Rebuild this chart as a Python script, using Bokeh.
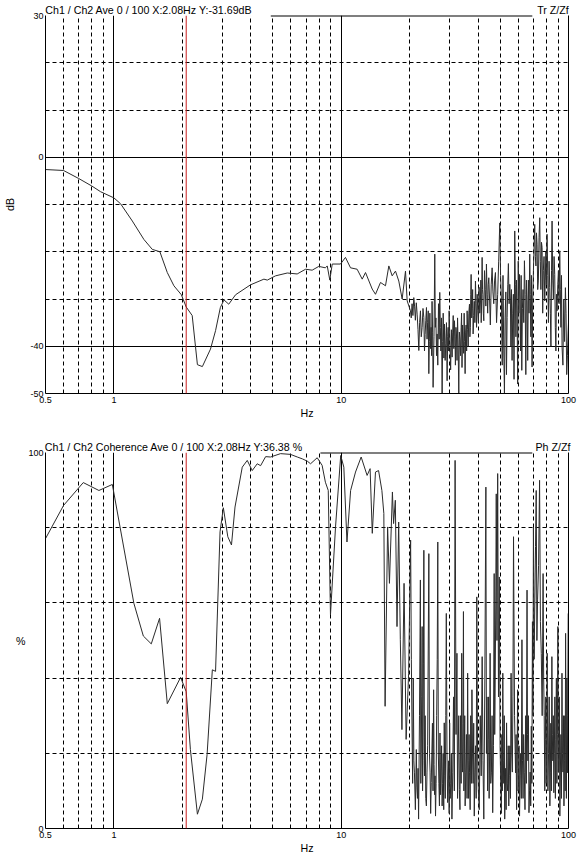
from bokeh.plotting import figure
from bokeh.models import FixedTicker, Grid, Span, LinearAxis, CustomJSTickFormatter
from bokeh.layouts import column
from bokeh.embed import file_html
from bokeh.resources import INLINE

# ---------------- data ----------------
# transfer function (dB), smooth low-frequency part
tf_freq_low = [0.5, 0.6, 0.7, 0.8, 0.874, 1.0, 1.07, 1.205, 1.355, 1.475, 1.593, 1.717, 1.836, 1.98, 2.08,
               2.21, 2.33, 2.45, 2.66, 2.80, 2.94, 3.05, 3.20, 3.43, 3.99, 4.57, 4.73, 5.14, 5.79, 6.4,
               6.97, 7.45, 7.97, 8.52, 8.68, 8.91, 9.13, 9.93, 10.44, 10.99, 11.75, 12.37, 12.79, 13.69,
               14.15, 14.89, 15.66, 16.20, 16.76, 17.33, 17.92, 18.54, 19.18, 19.51]
tf_db_low = [-2.6, -2.8, -4.5, -6.1, -7.3, -8.6, -9.85, -13.5, -17.4, -19.5, -20.0, -24.4, -27.2, -29.1, -31.69,
             -33.5, -43.9, -44.3, -40.6, -36.7, -31.8, -30.2, -31.1, -29.1, -27.0, -25.8, -26.0, -25.1, -24.5, -24.7,
             -23.7, -23.9, -23.1, -23.4, -23.0, -26.0, -22.6, -22.6, -21.2, -23.4, -23.7, -25.8, -24.4, -27.9,
             -29.0, -26.5, -27.2, -23.0, -25.1, -24.1, -26.2, -30.0, -24.1, -30.4]
# transfer function (dB), noisy high-frequency part
tf_freq_high = [20.17, 20.33, 20.5, 20.68, 20.86, 21.03, 21.2, 21.4, 21.58, 21.77,
                21.95, 22.13, 22.32, 22.5, 22.7, 22.9, 23.09, 23.25, 23.4, 23.56,
                23.72, 23.86, 24.0, 24.15, 24.29, 24.42, 24.55, 24.7, 24.86, 24.98,
                25.1, 25.24, 25.37, 25.6, 25.8, 25.95, 26.1, 26.26, 26.42, 26.6,
                26.8, 26.97, 27.14, 27.3, 27.45, 27.62, 27.8, 27.95, 28.1, 28.3,
                28.47, 28.66, 28.85, 29.05, 29.24, 29.4, 29.55, 29.7, 29.84, 30.07,
                30.3, 30.53, 30.76, 30.93, 31.1, 31.3, 31.5, 31.65, 31.8, 31.97,
                32.14, 32.32, 32.5, 32.7, 32.91, 33.1, 33.3, 33.5, 33.7, 33.85,
                34.0, 34.2, 34.39, 34.57, 34.75, 34.92, 35.09, 35.27, 35.45, 35.63,
                35.81, 36.0, 36.2, 36.43, 36.67, 36.83, 37.0, 37.15, 37.29, 37.5,
                37.7, 37.87, 38.05, 38.28, 38.5, 38.73, 38.96, 39.18, 39.4, 39.65,
                39.89, 40.15, 40.4, 40.7, 40.99, 41.15, 41.3, 41.5, 41.69, 41.85,
                42.0, 42.2, 42.4, 42.7, 43.0, 43.28, 43.55, 43.83, 44.1, 44.35,
                44.6, 44.95, 45.3, 45.7, 46.13, 46.5, 46.9, 47.3, 47.71, 48.25,
                48.8, 49.3, 49.84, 50.25, 50.69, 51.1, 51.5, 51.9, 52.26, 52.6,
                53.0, 53.35, 53.7, 54.05, 54.4, 54.8, 55.16, 55.5, 55.8, 56.1,
                56.47, 56.85, 57.2, 57.6, 58.01, 58.35, 58.7, 59.05, 59.4, 59.75,
                60.1, 60.45, 60.82, 61.15, 61.5, 61.9, 62.3, 62.7, 63.1, 63.55,
                63.99, 64.45, 64.9, 65.3, 65.73, 66.15, 66.6, 67.05, 67.53, 67.9,
                68.3, 68.7, 69.14, 69.6, 70.1, 70.55, 71.03, 71.45, 71.9, 72.3,
                72.74, 73.2, 73.7, 74.2, 74.73, 75.15, 75.6, 76.05, 76.52, 77.0,
                77.5, 78.05, 78.61, 79.05, 79.5, 80.0, 80.49, 81.05, 81.6, 82.15,
                82.69, 83.2, 83.7, 84.2, 84.67, 85.25, 85.8, 86.4, 86.99, 87.5,
                88.0, 88.55, 89.07, 89.7, 90.3, 90.9, 91.51, 92.05, 92.6, 93.15,
                93.7, 94.5, 95.3, 96.1, 96.92, 97.55, 98.2, 98.9, 99.57, 100.0]
tf_db_high = [-32.5, -34.0, -31.0, -33.5, -29.7, -31.5, -34.5, -30.8, -33.2, -36.5,
              -40.9, -35.0, -32.5, -38.0, -36.0, -32.0, -33.9, -41.0, -37.5, -34.5,
              -31.8, -38.5, -35.0, -32.5, -45.8, -39.0, -33.0, -40.5, -36.0, -42.0,
              -30.5, -37.0, -48.7, -38.0, -20.5, -36.0, -34.0, -42.0, -37.4, -44.0,
              -31.0, -38.5, -28.6, -36.0, -41.0, -34.0, -50.0, -39.0, -33.0, -42.5,
              -35.3, -43.0, -39.5, -35.0, -47.3, -38.0, -36.0, -41.0, -32.5, -39.0,
              -45.0, -36.5, -42.3, -37.0, -33.5, -40.5, -34.6, -38.0, -44.0, -36.0,
              -37.4, -43.0, -34.0, -40.0, -50.0, -37.0, -38.5, -42.0, -36.0, -33.0,
              -44.5, -35.5, -38.8, -41.5, -33.0, -39.0, -45.8, -37.0, -35.5, -41.0,
              -32.5, -36.5, -40.0, -33.0, -31.1, -38.0, -36.0, -29.0, -24.8, -34.0,
              -32.0, -28.0, -37.4, -33.5, -30.5, -35.0, -26.2, -31.0, -36.0, -29.0,
              -32.5, -35.0, -27.5, -33.0, -30.4, -26.0, -35.0, -30.0, -21.2, -28.0,
              -29.0, -33.0, -34.6, -24.0, -28.0, -31.5, -22.6, -29.0, -33.0, -27.0,
              -25.5, -30.0, -35.5, -27.0, -23.4, -28.5, -31.0, -26.0, -24.4, -35.0,
              -29.0, -22.0, -13.9, -25.0, -30.4, -44.0, -25.0, -41.0, -50.0, -34.0,
              -28.5, -46.0, -33.9, -27.0, -22.5, -31.0, -26.9, -30.0, -40.0, -28.0,
              -43.0, -33.0, -29.0, -47.0, -15.6, -27.0, -38.0, -26.0, -32.5, -48.0,
              -22.0, -33.0, -24.8, -30.0, -41.0, -25.0, -45.1, -32.0, -28.0, -35.0,
              -21.9, -29.0, -46.0, -26.0, -30.4, -43.0, -26.0, -33.0, -20.5, -29.0,
              -38.0, -25.0, -44.4, -30.0, -24.0, -19.0, -14.2, -21.0, -23.0, -16.0,
              -18.4, -28.0, -26.0, -17.0, -12.8, -22.0, -28.0, -18.0, -19.1, -33.0,
              -24.0, -21.0, -30.4, -26.0, -20.0, -27.0, -16.3, -25.0, -35.0, -22.0,
              -27.6, -33.0, -40.0, -24.0, -13.5, -26.0, -30.0, -21.0, -24.8, -36.0,
              -41.0, -29.0, -32.5, -27.0, -24.0, -31.0, -19.8, -28.0, -36.0, -25.0,
              -40.2, -44.0, -30.0, -39.0, -27.6, -33.0, -46.0, -42.0, -37.4, -35.0]

# coherence (%), low-frequency part
coh_freq_low = [0.5, 0.60, 0.733, 0.859, 0.984, 1.224, 1.347, 1.46, 1.588, 1.717, 1.965, 2.08, 2.17, 2.33, 2.45,
                2.57, 2.71, 2.80, 2.93, 3.03, 3.17, 3.29, 3.41, 3.67, 3.86, 4.06, 4.27, 4.42, 4.65, 4.89,
                5.41, 5.98, 6.41, 6.75, 7.09, 7.33, 7.84, 8.24, 8.52, 8.77, 8.97, 9.44, 9.95, 10.27, 10.6,
                11.0, 11.56, 12.24, 13.0, 13.4, 13.7, 14.15, 14.6, 15.1, 15.4, 15.6, 16.0, 16.3, 16.8, 17.0,
                17.3, 17.6, 17.9, 18.2, 18.5, 18.9, 19.3, 19.8]
coh_pct_low = [77.1, 85.9, 92.0, 89.9, 91.5, 59.9, 51.2, 49.1, 55.9, 33.2, 40.2, 36.38, 21.0, 3.8, 7.8,
               19.7, 42.2, 41.8, 78.9, 85.3, 77.6, 75.4, 85.5, 96.1, 97.9, 95.2, 97.0, 96.5, 98.9, 98.8,
               99.7, 99.5, 98.8, 98.3, 97.7, 97.0, 98.6, 96.6, 92.1, 89.9, 56.8, 80.2, 99.2, 96.1, 76.2,
               89.9, 94.8, 98.8, 93.9, 95.7, 78.5, 94.8, 95.2, 89.9, 83.8, 32.5, 80.2, 65.2, 89.5, 81.1,
               87.3, 53.7, 81.5, 50.2, 26.3, 65.2, 23.7, 41.3]
# coherence (%), noisy high-frequency part
coh_freq_high = [20.2, 20.35, 20.5, 20.62, 20.75, 20.88, 21.0, 21.2, 21.4, 21.52,
                 21.65, 21.78, 21.9, 22.1, 22.3, 22.4, 22.5, 22.6, 22.7, 22.8,
                 22.9, 23.0, 23.1, 23.25, 23.4, 23.55, 23.7, 23.85, 24.0, 24.15,
                 24.3, 24.45, 24.6, 24.75, 24.9, 25.05, 25.2, 25.35, 25.5, 25.62,
                 25.75, 25.88, 26.0, 26.15, 26.3, 26.45, 26.6, 26.75, 26.9, 27.05,
                 27.2, 27.35, 27.5, 27.65, 27.8, 27.95, 28.1, 28.25, 28.4, 28.55,
                 28.7, 28.85, 29.0, 29.2, 29.4, 29.55, 29.7, 29.85, 30.0, 30.17,
                 30.35, 30.52, 30.7, 30.95, 31.2, 31.45, 31.7, 32.0, 32.3, 32.5,
                 32.7, 32.9, 33.1, 33.3, 33.5, 33.7, 33.9, 34.05, 34.2, 34.35,
                 34.5, 34.65, 34.8, 34.95, 35.1, 35.32, 35.55, 35.78, 36.0, 36.17,
                 36.35, 36.52, 36.7, 36.92, 37.15, 37.38, 37.6, 37.82, 38.05, 38.28,
                 38.5, 38.75, 39.0, 39.25, 39.5, 39.8, 40.1, 40.5, 40.9, 41.3,
                 41.7, 42.05, 42.4, 42.85, 43.3, 43.55, 43.8, 44.05, 44.3, 44.52,
                 44.75, 44.97, 45.2, 45.5, 45.8, 46.1, 46.4, 46.75, 47.1, 47.35,
                 47.6, 47.85, 48.1, 48.45, 48.8, 49.2, 49.6, 50.0, 50.4, 50.65,
                 50.9, 51.15, 51.4, 51.65, 51.9, 52.15, 52.4, 52.65, 52.9, 53.15,
                 53.4, 53.7, 54.0, 54.3, 54.6, 54.9, 55.2, 55.55, 55.9, 56.25,
                 56.6, 56.95, 57.3, 57.9, 58.5, 58.8, 59.1, 59.4, 59.7, 60.0,
                 60.3, 60.6, 60.9, 61.25, 61.6, 62.0, 62.4, 62.75, 63.1, 63.5,
                 63.9, 64.35, 64.8, 65.25, 65.7, 66.0, 66.3, 66.65, 67.0, 67.4,
                 67.8, 68.2, 68.6, 69.0, 69.4, 69.75, 70.1, 70.6, 71.1, 71.6,
                 72.1, 72.6, 73.1, 73.85, 74.6, 75.25, 75.9, 76.6, 77.3, 77.75,
                 78.2, 78.65, 79.1, 79.45, 79.8, 80.2, 80.6, 81.15, 81.7, 82.25,
                 82.8, 83.2, 83.6, 84.05, 84.5, 84.9, 85.3, 85.75, 86.2, 86.65,
                 87.1, 87.55, 88.0, 88.45, 88.9, 89.35, 89.8, 90.25, 90.7, 91.15,
                 91.6, 92.1, 92.6, 93.1, 93.6, 94.05, 94.5, 95.0, 95.5, 95.9,
                 96.3, 96.7, 97.1, 97.5, 97.9, 98.35, 98.8, 99.25, 99.7]
coh_pct_high = [76.7, 45.0, 25.4, 12.0, 40.0, 18.0, 14.8, 5.0, 21.0, 11.0,
                8.0, 16.0, 2.5, 30.0, 66.1, 12.0, 20.0, 35.0, 53.7, 10.0,
                18.0, 44.0, 74.0, 14.0, 30.0, 8.0, 6.0, 15.0, 22.0, 48.0,
                73.1, 20.0, 15.0, 4.0, 12.2, 20.0, 28.0, 10.0, 36.9, 17.0,
                9.0, 14.0, 3.3, 12.0, 30.0, 45.0, 76.2, 20.0, 12.0, 6.0,
                25.4, 9.0, 15.0, 22.0, 6.0, 12.0, 20.0, 5.0, 28.1, 14.0,
                8.0, 30.0, 57.2, 20.0, 6.9, 12.0, 18.0, 4.0, 28.1, 8.0,
                12.0, 20.0, 2.5, 15.0, 35.0, 10.0, 97.9, 25.0, 46.6, 8.0,
                20.0, 30.0, 10.4, 5.0, 30.0, 12.0, 46.6, 20.0, 15.0, 28.0,
                57.7, 10.0, 20.0, 30.0, 6.0, 15.0, 25.0, 8.0, 41.3, 18.0,
                8.0, 25.0, 14.8, 5.0, 30.0, 12.0, 36.9, 20.0, 12.0, 28.0,
                3.3, 15.0, 22.0, 8.0, 61.6, 20.0, 10.4, 5.0, 30.0, 14.0,
                45.7, 18.0, 2.5, 40.0, 90.8, 20.0, 35.0, 10.0, 23.7, 35.0,
                8.0, 20.0, 46.6, 12.0, 15.0, 30.0, 4.2, 22.0, 67.8, 25.0,
                40.0, 60.0, 89.0, 50.0, 94.4, 35.0, 66.9, 22.0, 10.4, 4.0,
                25.0, 10.0, 41.3, 18.0, 12.0, 30.0, 2.5, 10.0, 16.0, 5.0,
                28.1, 12.0, 10.0, 22.0, 6.0, 14.0, 22.0, 8.0, 41.3, 20.0,
                15.0, 35.0, 77.6, 30.0, 14.8, 25.0, 5.0, 16.0, 36.9, 10.0,
                12.0, 22.0, 3.3, 14.0, 20.0, 8.0, 50.2, 18.0, 8.0, 25.0,
                14.8, 5.0, 30.0, 12.0, 63.4, 25.0, 18.0, 30.0, 4.2, 10.0,
                15.0, 6.0, 27.2, 12.0, 55.0, 30.0, 80.2, 45.0, 60.0, 75.0,
                89.9, 50.0, 60.8, 70.0, 92.6, 55.0, 46.6, 30.0, 67.8, 40.0,
                30.0, 10.0, 23.7, 35.0, 12.0, 25.0, 46.6, 10.0, 20.0, 35.0,
                6.0, 15.0, 28.0, 10.0, 45.7, 25.0, 18.0, 30.0, 9.5, 20.0,
                35.0, 8.0, 23.7, 40.0, 12.0, 25.0, 53.7, 15.0, 20.0, 35.0,
                3.3, 15.0, 25.0, 8.0, 41.3, 20.0, 15.0, 30.0, 6.0, 18.0,
                30.0, 10.0, 51.9, 25.0, 8.0, 40.0, 14.8, 30.0, 57.2]

assert len(tf_freq_low) == len(tf_db_low) and len(tf_freq_high) == len(tf_db_high)
assert len(coh_freq_low) == len(coh_pct_low) and len(coh_freq_high) == len(coh_pct_high)

cursor_hz = 2.08
x_labels = [0.5, 1, 10, 100]
x_solid = [1, 10]
x_dashed = [0.6, 0.7, 0.8, 0.9, 2, 3, 4, 5, 6, 7, 8, 9, 20, 30, 40, 50, 60, 70, 80, 90]
tf_y_labels = [-50, -40, 0, 30]
tf_y_solid = [0, -40]
tf_y_dashed = [20, 10, -10, -20, -30]
coh_y_labels = [0, 100]
coh_y_dashed = [80, 60, 40, 20]

tf_header = "Ch1 / Ch2  Ave 0 / 100  X:2.08Hz  Y:-31.69dB"
tf_tag = "Tr Z/Zf"
coh_header = "Ch1 / Ch2  Coherence Ave 0 / 100  X:2.08Hz  Y:36.38 %"
coh_tag = "Ph Z/Zf"

# layout / style settings
FONT = "Liberation Sans"
TICK_SIZE = "9px"
TEXT_SIZE = "8pt"
LINE_COLOR = "#2b2b2b"
CURSOR_COLOR = "#c81e1e"
TF_HEADER_CENTER = 1.49      # Hz position of header text centre
COH_HEADER_CENTER = 1.92
TAG_CENTER = 85.4
TF_TOPLINE = (4.9, 69.3)     # visible part of the frame's top edge
COH_TOPLINE = (8.1, 69.3)

fmt = CustomJSTickFormatter(code="return tick.toString();")


def style_axis(ax):
    ax.major_tick_line_color = None
    ax.minor_tick_line_color = None
    ax.major_tick_out = 0
    ax.major_tick_in = 0
    ax.minor_tick_out = 0
    ax.minor_tick_in = 0
    ax.axis_line_color = "black"
    ax.major_label_text_font = FONT
    ax.major_label_text_font_size = TICK_SIZE
    ax.major_label_text_color = "black"
    ax.axis_label_text_font = FONT
    ax.axis_label_text_font_size = TEXT_SIZE
    ax.axis_label_text_font_style = "normal"
    ax.axis_label_text_color = "black"


def make_panel(height, ymin, ymax, border_top, border_bottom, y_ticks, y_solid, y_dashed,
               y_label, y_label_orient, y_label_standoff, freq, vals, header, header_center,
               tag, topline):
    p = figure(width=579, height=height, x_axis_type="log", x_range=(0.5, 100),
               y_range=(ymin, ymax), output_backend="svg", toolbar_location=None,
               min_border_left=45, min_border_right=11, min_border_top=border_top,
               min_border_bottom=border_bottom, background_fill_color="white",
               border_fill_color="white")
    p.outline_line_color = None
    p.grid.visible = False

    p.xaxis.ticker = FixedTicker(ticks=x_labels)
    p.xaxis.formatter = fmt
    p.yaxis.ticker = FixedTicker(ticks=y_ticks)
    p.yaxis.formatter = fmt
    style_axis(p.xaxis[0])
    style_axis(p.yaxis[0])
    p.xaxis.major_label_standoff = 3
    p.xaxis.axis_label = "Hz"
    p.xaxis.axis_label_standoff = 1
    p.yaxis.major_label_standoff = 2
    p.yaxis.axis_label = y_label
    p.yaxis.axis_label_standoff = y_label_standoff
    p.yaxis.axis_label_orientation = y_label_orient

    # header line above the frame
    head = LinearAxis(ticker=FixedTicker(ticks=[header_center, TAG_CENTER]),
                      formatter=CustomJSTickFormatter(args=dict(h=header, t=tag),
                                                      code="return tick < 10 ? h : t;"))
    style_axis(head)
    head.axis_line_color = None
    head.major_label_text_font_size = TEXT_SIZE
    head.major_label_standoff = 0
    p.add_layout(head, "above")

    # right frame edge
    right = LinearAxis(ticker=FixedTicker(ticks=[]))
    style_axis(right)
    p.add_layout(right, "right")

    # grids
    p.add_layout(Grid(dimension=0, ticker=FixedTicker(ticks=x_dashed), grid_line_color="black",
                      grid_line_dash="4 3", grid_line_width=1))
    p.add_layout(Grid(dimension=0, ticker=FixedTicker(ticks=x_solid), grid_line_color="black",
                      grid_line_width=1))
    p.add_layout(Grid(dimension=1, ticker=FixedTicker(ticks=y_dashed), grid_line_color="black",
                      grid_line_dash="4 3", grid_line_width=1))
    if y_solid:
        p.add_layout(Grid(dimension=1, ticker=FixedTicker(ticks=y_solid), grid_line_color="black",
                          grid_line_width=1))

    # visible part of the top frame edge (half of a 2px stroke is clipped away)
    p.segment(x0=[topline[0]], y0=[ymax], x1=[topline[1]], y1=[ymax], line_color="black",
              line_width=2)

    p.line(freq, vals, line_color=LINE_COLOR, line_width=1)
    p.add_layout(Span(location=cursor_hz, dimension="height", line_color=CURSOR_COLOR, line_width=1))
    return p


p1 = make_panel(428, -50, 30, 14, 35, tf_y_labels, tf_y_solid, tf_y_dashed, "dB", "parallel", 11,
                tf_freq_low + tf_freq_high, tf_db_low + tf_db_high,
                tf_header, TF_HEADER_CENTER, tf_tag, TF_TOPLINE)
p2 = make_panel(428, 0, 100, 24, 27, coh_y_labels, [], coh_y_dashed, "%", "horizontal", 0,
                coh_freq_low + coh_freq_high, coh_pct_low + coh_pct_high,
                coh_header, COH_HEADER_CENTER, coh_tag, COH_TOPLINE)

layout = column(p1, p2, spacing=0)
open("out.html", "w").write(file_html(layout, INLINE))
